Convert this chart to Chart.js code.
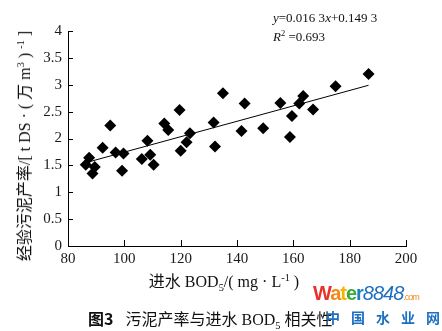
<!DOCTYPE html>
<html>
<head>
  <meta charset="utf-8">
  <title>污泥产率与进水 BOD5 相关性</title>
  <script src="https://cdn.jsdelivr.net/npm/chart.js"></script>
  <style>
    body {
      margin: 0;
      background: #fff;
      font-family: 'Liberation Serif', 'Noto Sans CJK SC', serif;
      color: #111;
    }
    #wrap { position: relative; width: 442px; height: 331px; }
    .txt { position: absolute; white-space: nowrap; line-height: 1; }
    sub, sup { font-size: 0.65em; line-height: 0; }
  </style>
</head>
<body>
<div id="wrap">
  <canvas id="bodChart" width="442" height="331"></canvas>

  <!-- axis titles -->
  <div class="txt" style="left:25px; top:146px; font-size:16px; transform: translate(-50%,-50%) rotate(-90deg);">
    经验污泥产率/[ t DS · ( 万 m<sup>3</sup> ) <sup>-1</sup> ]
  </div>
  <div class="txt" style="left:224px; top:282px; font-size:16px; transform: translate(-50%,-50%);">
    进水 BOD<sub>5</sub>/( mg · L<sup>-1</sup> )
  </div>

  <!-- regression text -->
  <div class="txt" style="left:273px; top:11px; font-size:13px;"><i>y</i>=0.016 3<i>x</i>+0.149 3</div>
  <div class="txt" style="left:273px; top:30px; font-size:13px;"><i>R</i><sup>2</sup> =0.693</div>

  <!-- caption -->
  <div class="txt" style="left:88px; top:310px; font-size:16px;">
    <b style="font-family:'Noto Sans CJK SC',sans-serif;">图3</b>&nbsp;&nbsp;&nbsp;污泥产率与进水 BOD<sub>5</sub> 相关性
  </div>

  <!-- watermark -->
  <div class="txt" style="left:313px; top:283px; font-family:Arial,'Liberation Sans',sans-serif; font-size:20px; font-weight:bold; letter-spacing:-1px;">
    <span style="color:#e8322b">W</span><span style="color:#f08a1c">a</span><span style="color:#f5b400">t</span><span style="color:#3aa935">e</span><span style="color:#1e7fc8">r</span><span style="color:#1d6fc0; font-style:italic; font-weight:normal;">8848</span><span style="color:#f08a1c; font-size:9px; font-weight:normal;">.com</span>
  </div>
  <div class="txt" style="left:326px; top:310px; font-family:'Noto Sans CJK SC',sans-serif; font-size:14px; font-weight:bold; color:#1d6fc0; letter-spacing:11px;">中国水业网</div>
</div>

<script>
  // values
  const bodIn = [86.3, 87.5, 88.7, 89.5, 92.3, 95.0, 96.9, 99.7, 99.2, 106.2, 108.2,
                 109.2, 110.4, 114.2, 115.6, 119.6, 120.0, 122.1, 123.3, 131.7, 132.2,
                 135.0, 141.6, 142.7, 149.3, 155.4, 158.8, 159.5, 162.1, 163.5, 167.0,
                 175.0, 186.7];
  const sludgeYield = [1.51, 1.64, 1.35, 1.47, 1.83, 2.24, 1.74, 1.72, 1.40, 1.62, 1.96,
                       1.70, 1.51, 2.28, 2.16, 2.53, 1.77, 1.93, 2.10, 2.30, 1.85,
                       2.84, 2.14, 2.65, 2.19, 2.66, 2.03, 2.42, 2.65, 2.79, 2.54,
                       2.97, 3.20];
  const fitX = [86.3, 186.7];
  const fitY = [1.55, 2.99];
  const xTicks = [80, 100, 120, 140, 160, 180, 200];
  const yTicks = [0, 0.5, 1, 1.5, 2, 2.5, 3, 3.5, 4];

  const points = bodIn.map((x, i) => ({ x: x, y: sludgeYield[i] }));
  const fitLine = fitX.map((x, i) => ({ x: x, y: fitY[i] }));

  // ticks in this figure point into the plot area
  const innerTicks = {
    id: 'innerTicks',
    afterDraw(chart) {
      const ctx = chart.ctx, area = chart.chartArea;
      const xs = chart.scales.x, ys = chart.scales.y;
      ctx.save();
      ctx.strokeStyle = '#000';
      ctx.lineWidth = 1;
      ctx.beginPath();
      xs.ticks.forEach(t => {
        const px = Math.round(xs.getPixelForValue(t.value)) + 0.5;
        ctx.moveTo(px, area.bottom);
        ctx.lineTo(px, area.bottom - 6);
      });
      ys.ticks.forEach(t => {
        const py = Math.round(ys.getPixelForValue(t.value)) + 0.5;
        ctx.moveTo(area.left, py);
        ctx.lineTo(area.left + 5, py);
      });
      ctx.stroke();
      ctx.restore();
    }
  };

  const tickFont = { family: "'Liberation Serif', serif", size: 15 };

  new Chart(document.getElementById('bodChart'), {
    type: 'scatter',
    data: {
      datasets: [
        {
          data: points,
          pointStyle: 'rectRot',
          pointRadius: 6,
          backgroundColor: '#000',
          borderColor: '#000',
          borderWidth: 0
        },
        {
          type: 'line',
          data: fitLine,
          borderColor: '#000',
          borderWidth: 1,
          pointRadius: 0,
          fill: false
        }
      ]
    },
    options: {
      responsive: false,
      animation: false,
      events: [],
      layout: { padding: { top: 31, right: 36, bottom: 0, left: 0 } },
      plugins: { legend: { display: false }, tooltip: { enabled: false } },
      scales: {
        x: {
          type: 'linear',
          min: 80,
          max: 200,
          afterFit(scale) { scale.height = 85; },
          afterBuildTicks(scale) { scale.ticks = xTicks.map(v => ({ value: v })); },
          grid: { display: false, drawTicks: false },
          border: { display: true, color: '#000', width: 1 },
          ticks: { font: tickFont, color: '#1a1a1a', padding: 4 }
        },
        y: {
          min: 0,
          max: 4,
          afterFit(scale) { scale.width = 68; },
          afterBuildTicks(scale) { scale.ticks = yTicks.map(v => ({ value: v })); },
          grid: { display: false, drawTicks: false },
          border: { display: true, color: '#000', width: 1 },
          ticks: { font: tickFont, color: '#1a1a1a', padding: 6, callback: v => String(v) }
        }
      }
    },
    plugins: [innerTicks]
  });
</script>
</body>
</html>
